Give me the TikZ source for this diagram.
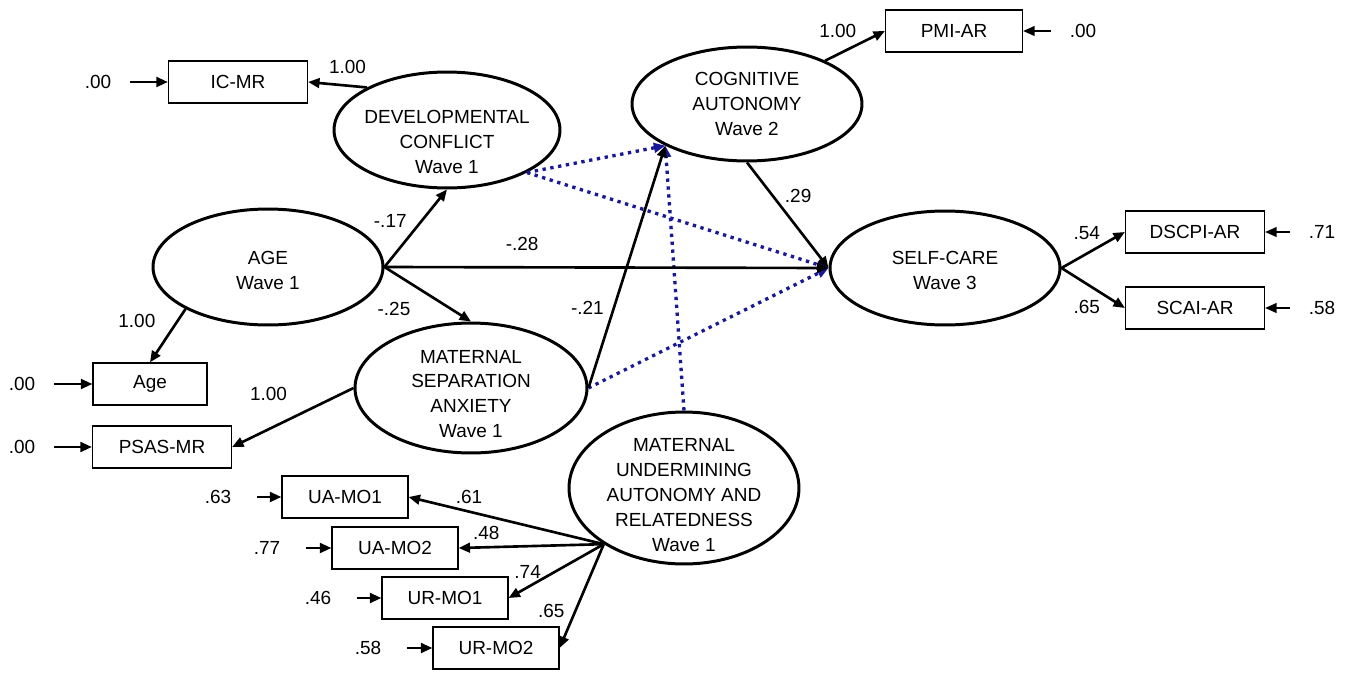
\documentclass[tikz,border=0pt]{standalone}
\usepackage{fontspec}
\setmainfont{Liberation Sans}
\usetikzlibrary{shapes.geometric,arrows.meta}
\definecolor{dotblue}{RGB}{25,25,150}

\begin{document}
\begin{tikzpicture}[x=0.02cm, y=-0.02cm,
		every node/.style={font=\fontsize{10.8}{14.2}\selectfont},
		latent/.style={draw, ellipse, line width=1.7pt, inner sep=0pt, minimum width=4.6cm, minimum height=2.28cm},
		ltxt/.style={align=center, inner sep=0pt},
		obs/.style={draw, rectangle, line width=0.7pt, inner sep=0pt, minimum width=2.78cm, minimum height=0.84cm},
		wt/.style={inner sep=1pt},
		arrow/.style={-{Triangle[length=6.5pt,width=5.5pt]}, line width=1.5pt},
		dotarrow/.style={arrow, dotblue, line width=1.9pt, dash pattern=on 1.9pt off 2.6pt},
		err/.style={arrow, shorten <=0.26cm},
	]
	\useasboundingbox (0,0) rectangle (1357,673);

	% latent variables
	\node[latent, minimum width=4.52cm, minimum height=2.32cm, label={[ltxt, yshift=-0.24cm]center:DEVELOPMENTAL\\CONFLICT\\Wave 1}] (dev) at (447,130) {};
	\node[latent, label={[ltxt]center:COGNITIVE\\AUTONOMY\\Wave 2}] (cog) at (747,104) {};
	\node[latent, minimum height=2.32cm, label={[ltxt, yshift=-0.06cm]center:AGE\\Wave 1}] (age) at (268,267) {};
	\node[latent, minimum width=4.64cm, minimum height=2.6cm, label={[ltxt, yshift=-0.12cm]center:MATERNAL\\SEPARATION\\ANXIETY\\Wave 1}] (msa) at (471,388) {};
	\node[latent, label={[ltxt, yshift=-0.04cm]center:SELF-CARE\\Wave 3}] (self) at (945,268) {};
	\node[latent, minimum height=3.04cm, label={[ltxt, yshift=-0.14cm]center:MATERNAL\\UNDERMINING\\AUTONOMY AND\\RELATEDNESS\\Wave 1}] (mu) at (684,488) {};

	% indicators
	\node[obs] (icmr) at (238,82) {IC-MR};
	\node[obs, minimum width=2.74cm] (pmi) at (954,31) {PMI-AR};
	\node[obs] (dscpi) at (1195,232) {DSCPI-AR};
	\node[obs] (scai) at (1195,308) {SCAI-AR};
	\node[obs, minimum width=2.28cm] (agebox) at (150,384) {Age};
	\node[obs] (psas) at (162,447) {PSAS-MR};
	\node[obs, minimum width=2.52cm] (uamo1) at (345,497) {UA-MO1};
	\node[obs, minimum width=2.52cm] (uamo2) at (395,548) {UA-MO2};
	\node[obs, minimum width=2.52cm] (urmo1) at (445,598) {UR-MO1};
	\node[obs, minimum width=2.52cm] (urmo2) at (496,648) {UR-MO2};

	% error terms
	\node (e1) at (98,82) {.00};
	\node (e2) at (22,384) {.00};
	\node (e3) at (22,447) {.00};
	\node (e4) at (218,497) {.63};
	\node (e5) at (267,548) {.77};
	\node (e6) at (318,598) {.46};
	\node (e7) at (368,648) {.58};
	\node (e8) at (1083,31) {.00};
	\node (e9) at (1322,232) {.71};
	\node (e10) at (1322,308) {.58};

	\draw[err] (e1) -- (icmr);
	\draw[err] (e2) -- (agebox);
	\draw[err] (e3) -- (psas);
	\draw[err, shorten <=0.4cm] (e4) -- (uamo1);
	\draw[err, shorten <=0.4cm] (e5) -- (uamo2);
	\draw[err, shorten <=0.4cm] (e6) -- (urmo1);
	\draw[err, shorten <=0.4cm] (e7) -- (urmo2);
	\draw[err, line width=1pt] (e8) -- (pmi);
	\draw[err, line width=1pt] (e9) -- (dscpi);
	\draw[err, line width=1pt] (e10) -- (scai);

	% non-significant paths
	\draw[dotarrow] (dev.332) -- (cog.207);
	\draw[dotarrow] (dev.332) -- (self.west);
	\draw[dotarrow] (msa.east) -- (self.west);
	\draw[dotarrow] (mu.north) -- (cog.207);

	% loadings
	\draw[arrow] (dev.152) -- node[wt, pos=0.33, above=5pt] (w1) {1.00} (icmr.east);
	\draw[arrow] (cog.29) -- node[wt, pos=0.6, above left=1pt] (w2) {1.00} (pmi.west);
	\draw[arrow] (age.207) -- node[wt, pos=0.22, left=11pt] (w3) {1.00} (agebox.north);
	\draw[arrow] (msa.west) -- node[wt, pos=0.7, above=14.5pt] (w4) {1.00} (psas.east);
	\draw[arrow] (self.east) -- node[wt, pos=0.4, above=6pt] (w5) {.54} (dscpi.west);
	\draw[arrow] (self.east) -- node[wt, pos=0.4, below=7.5pt] (w6) {.65} (scai.west);
	\draw[arrow] (mu.215) -- node[wt, pos=0.69, above=3pt] (w7) {.61} (uamo1.east);
	\draw[arrow] (mu.215) -- node[wt, pos=0.81, above=2.5pt] (w8) {.48} (uamo2.east);
	\draw[arrow] (mu.215) -- node[wt, pos=0.8, above=3pt] (w9) {.74} (urmo1.east);
	\draw[arrow] (mu.215) -- node[wt, pos=0.64, left=4.5pt] (w10) {.65} (urmo2.east);

	% structural paths
	\draw[arrow] (age.east) -- node[wt, pos=0.6, left=7pt] (w11) {-.17} (dev.south);
	\draw[arrow] (age.east) -- node[wt, pos=0.11, below=15pt] (w12) {-.25} (msa.north);
	\draw[arrow] (age.east) -- node[wt, pos=0.31, above=7.5pt] (w13) {-.28} (self.west);
	\draw[arrow] (msa.east) -- node[wt, pos=0.33, left=4pt] (w14) {-.21} (cog.207);
	\draw[arrow] (cog.south) -- node[wt, pos=0.32, right=5pt] (w15) {.29} (self.west);
\end{tikzpicture}
\end{document}
